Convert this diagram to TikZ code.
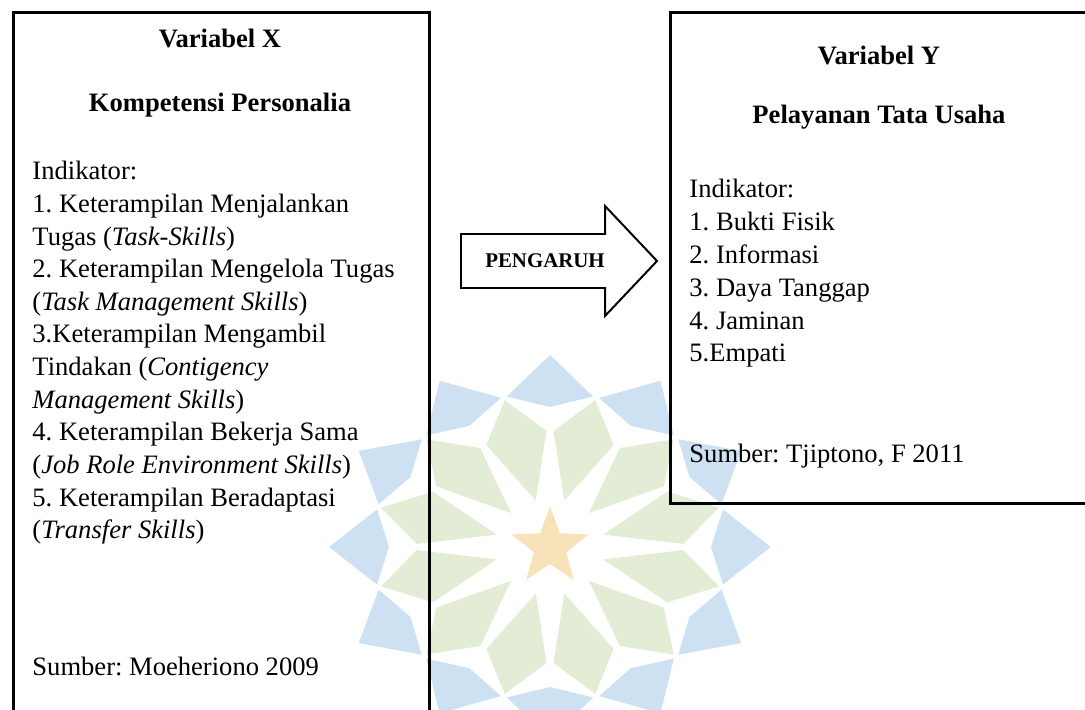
\documentclass[tikz,border=0pt]{standalone}
\usepackage{fontspec}
\setmainfont{Liberation Serif}
\frenchspacing
\usetikzlibrary{shapes.geometric}

\definecolor{logoblue}{RGB}{205,225,243}
\definecolor{logogreen}{RGB}{227,237,214}
\definecolor{logostar}{RGB}{248,226,186}

\tikzset{
  varbox/.style={draw, line width=1.5pt, rectangle, inner sep=0pt, anchor=north west},
  arrowbox/.style={line width=0.9pt, line join=miter},
  itemtext/.style={anchor=base west, inner sep=0pt, font=\fontsize{12.1}{14.85}\selectfont},
  titletext/.style={anchor=base, inner sep=0pt, font=\fontsize{12.1}{14.85}\selectfont\bfseries},
}

\begin{document}
\begin{tikzpicture}
\useasboundingbox (0,0) rectangle (17.36,11.344);
%%%%%%%%%%
% Logo (background)
%%%%%%%%%%
\begin{scope}[shift={(8.8,2.592)}, xscale=1.15, scale=0.016]
\foreach \a in {0,30,...,330} {
% outer blue pieces
\fill[logoblue] (\a:192) -- ({\a+14}:155) -- (\a:140) -- ({\a-14}:155) -- cycle;
% inner green petals
\fill[logogreen] ({\a+15}:48) -- ({\a+1.5}:116) -- ({\a+15}:152) -- ({\a+28.5}:116) -- cycle;
}
\end{scope}
\node[star, star points=5, star point ratio=2.4, fill=logostar, minimum size=1.3cm, inner sep=0pt] (logo) at (8.8,2.592) {};

%%%%%%%%%%
% Boxes
%%%%%%%%%%
\node[varbox, minimum width=6.656cm, minimum height=11.5cm] (boxX) at (0.192,11.168) {};
\node[varbox, minimum width=6.95cm, minimum height=7.856cm] (boxY) at (10.704,11.168) {};

% Arrow
\draw[arrowbox] (7.376,7.6) -- (9.68,7.6) -- (9.68,8.048) -- (10.512,7.168)
  -- (9.68,6.288) -- (9.68,6.736) -- (7.376,6.736) -- cycle;
\node[inner sep=0pt, font=\fontsize{9.5}{11}\selectfont\bfseries] (pengaruh) at (8.72,7.168) {PENGARUH};

%%%%%%%%%%
% Variabel X
%%%%%%%%%%
\node[titletext] (varX) at (3.52,10.576) {Variabel X};
\node[titletext] (kompX) at (3.52,9.552) {Kompetensi Personalia};
\foreach \i/\lab in {
0/{Indikator:},
1/{1. Keterampilan Menjalankan},
2/{Tugas (\textit{Task-Skills})},
3/{2. Keterampilan Mengelola Tugas},
4/{(\textit{Task Management Skills})},
5/{3.Keterampilan Mengambil},
6/{Tindakan (\textit{Contigency}},
7/{\textit{Management Skills})},
8/{4. Keterampilan Bekerja Sama},
9/{(\textit{Job Role Environment Skills})},
10/{5. Keterampilan Beradaptasi},
11/{(\textit{Transfer Skills})}
} {
\node[itemtext] (indX\i) at (0.512,{8.464-\i*0.5216}) {\lab};
}
\node[itemtext] (srcX) at (0.512,0.544) {Sumber: Moeheriono 2009};

%%%%%%%%%%
% Variabel Y
%%%%%%%%%%
\node[titletext] (varY) at (14.064,10.304) {Variabel Y};
\node[titletext] (pelY) at (14.064,9.36) {Pelayanan Tata Usaha};
\foreach \i/\lab in {
0/{Indikator:},
1/{1. Bukti Fisik},
2/{2. Informasi},
3/{3. Daya Tanggap},
4/{4. Jaminan},
5/{5.Empati}
} {
\node[itemtext] (indY\i) at (11.024,{8.176-\i*0.5248}) {\lab};
}
\node[itemtext] (srcY) at (11.024,3.936) {Sumber: Tjiptono, F 2011};

\end{tikzpicture}
\end{document}
